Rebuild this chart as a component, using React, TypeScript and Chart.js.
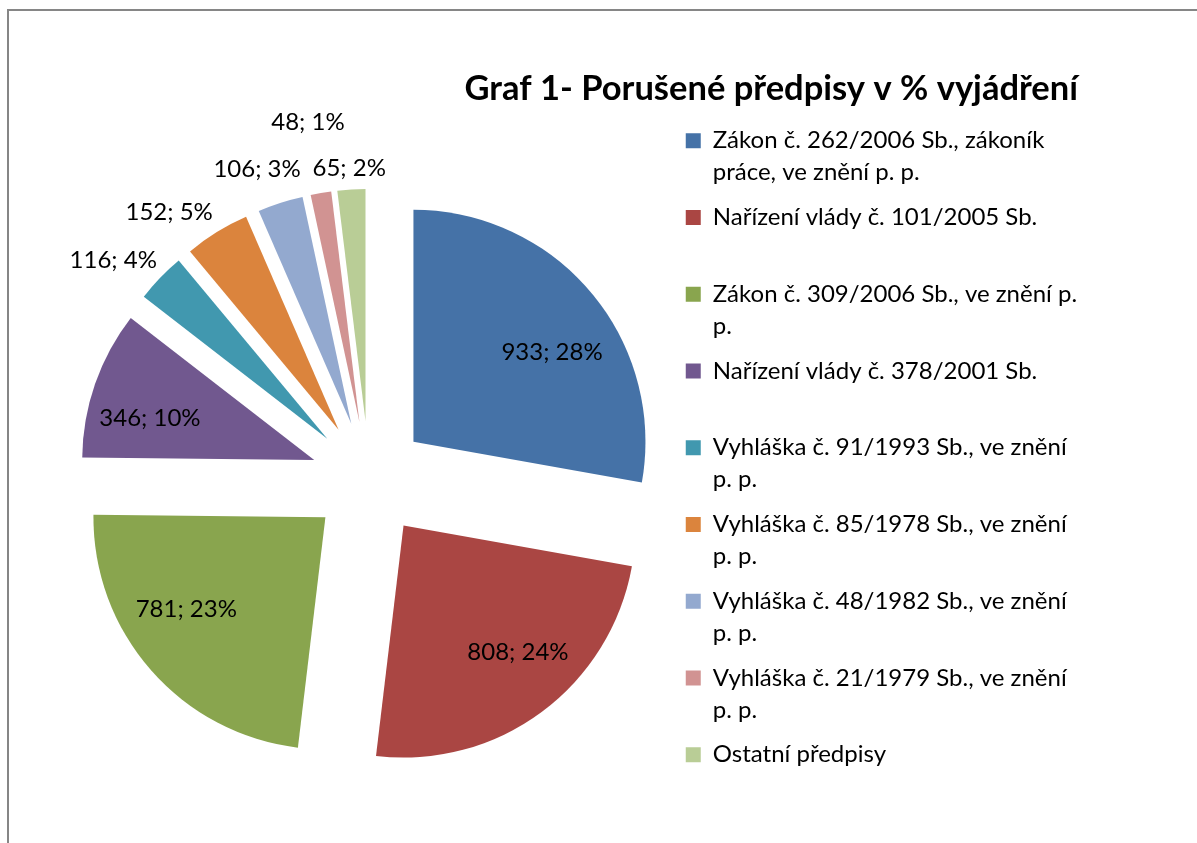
import React, { useEffect, useRef } from "react";
import { Chart, ArcElement, PieController, Legend, Title } from "chart.js";

Chart.register(ArcElement, PieController, Legend, Title);

// ---- data ----
const TITLE = "Graf 1- Porušené předpisy v % vyjádření";
const CATEGORIES: string[][] = [
  ["Zákon č. 262/2006 Sb., zákoník", "práce, ve znění p. p."],
  ["Nařízení vlády č. 101/2005 Sb."],
  ["Zákon č. 309/2006 Sb., ve znění p.", "p."],
  ["Nařízení vlády č. 378/2001 Sb."],
  ["Vyhláška č. 91/1993 Sb., ve znění", "p. p."],
  ["Vyhláška č. 85/1978 Sb., ve znění", "p. p."],
  ["Vyhláška č. 48/1982 Sb., ve znění", "p. p."],
  ["Vyhláška č. 21/1979 Sb., ve znění", "p. p."],
  ["Ostatní předpisy"],
];
const VALUES = [933, 808, 781, 346, 116, 152, 106, 48, 65];
const PERCENTS = [28, 24, 23, 10, 4, 5, 3, 1, 2];
const COLORS = [
  "#4572A7", "#AA4643", "#89A54E", "#71588F", "#4198AF",
  "#DB843D", "#93A9CF", "#D19392", "#B9CD96",
];

// ---- label layout (radial distance as a fraction of radius, angular nudge in degrees) ----
const LABEL_DIST = [0.71, 0.735, 0.72, 0.73, 1.2, 1.187, 1.169, 1.309, 1.093];
const LABEL_TURN = [7.2, -5.6, 7.7, -5.1, -4.2, -6.3, -2.5, -0.2, -0.2];

const FONT = "Lato";
const TEXT_SIZE = 24;
const EXPLODE = 58;
const RADIUS = 232;

// Excel-style exploded slices: shift each whole slice outward along its bisector
(ArcElement.prototype as any).draw = function (ctx: CanvasRenderingContext2D) {
  const { x, y, startAngle, endAngle, outerRadius, options } = this as any;
  if (!(endAngle > startAngle)) return;
  const off = options.offset || 0;
  const mid = (startAngle + endAngle) / 2;
  ctx.save();
  ctx.translate(Math.cos(mid) * off, Math.sin(mid) * off);
  ctx.beginPath();
  ctx.moveTo(x, y);
  ctx.arc(x, y, outerRadius, startAngle, endAngle);
  ctx.closePath();
  ctx.fillStyle = options.backgroundColor;
  ctx.fill();
  ctx.restore();
};

const sliceLabels = {
  id: "sliceLabels",
  afterDatasetsDraw(chart: any) {
    const meta = chart.getDatasetMeta(0);
    const ctx: CanvasRenderingContext2D = chart.ctx;
    ctx.save();
    ctx.font = `${TEXT_SIZE}px ${FONT}`;
    ctx.fillStyle = "#000";
    ctx.textAlign = "center";
    ctx.textBaseline = "middle";
    meta.data.forEach((arc: any, i: number) => {
      const { x, y, startAngle, endAngle, outerRadius } = arc;
      const off = arc.options.offset || 0;
      const mid = (startAngle + endAngle) / 2;
      const ex = x + Math.cos(mid) * off;
      const ey = y + Math.sin(mid) * off;
      const a = mid + (LABEL_TURN[i] * Math.PI) / 180;
      const r = outerRadius * LABEL_DIST[i];
      ctx.fillText(`${VALUES[i]}; ${PERCENTS[i]}%`, ex + Math.cos(a) * r, ey + Math.sin(a) * r);
    });
    ctx.restore();
  },
};

export default function App() {
  const ref = useRef<HTMLCanvasElement | null>(null);

  useEffect(() => {
    if (!ref.current) return;
    const chart = new Chart(ref.current, {
      type: "pie",
      data: {
        labels: CATEGORIES,
        datasets: [
          {
            data: VALUES,
            backgroundColor: COLORS,
            borderWidth: 0,
            offset: EXPLODE,
            radius: RADIUS,
          } as any,
        ],
      },
      options: {
        responsive: false,
        animation: false,
        layout: { padding: { left: 56, right: 119, top: 0, bottom: 7 } },
        plugins: {
          title: {
            display: true,
            text: TITLE,
            align: "end",
            color: "#000",
            font: { family: FONT, size: 34.5, weight: "bold", lineHeight: 1.2 },
            padding: { top: 57, bottom: 6.6 },
          },
          legend: {
            position: "right",
            align: "start",
            fullSize: false,
            maxWidth: 405,
            labels: {
              boxWidth: 15,
              boxHeight: 15,
              padding: 12.75,
              color: "#000",
              font: { family: FONT, size: TEXT_SIZE, lineHeight: "32px" },
              generateLabels: () =>
                CATEGORIES.map((lines, i) => ({
                  text: lines.length > 1 ? lines : [lines[0], ""],
                  fillStyle: COLORS[i],
                  strokeStyle: COLORS[i],
                  lineWidth: 0,
                  hidden: false,
                  index: i,
                })) as any,
            },
          },
          tooltip: { enabled: false },
        },
      } as any,
      plugins: [sliceLabels],
    });
    return () => chart.destroy();
  }, []);

  return (
    <div
      style={{
        position: "fixed",
        left: 7,
        top: 9,
        width: 1190,
        height: 840,
        borderTop: "2px solid #868686",
        borderLeft: "2px solid #868686",
        boxSizing: "border-box",
        background: "#fff",
      }}
    >
      <canvas ref={ref} width={1188} height={838} style={{ display: "block", width: 1188, height: 838 }} />
    </div>
  );
}
